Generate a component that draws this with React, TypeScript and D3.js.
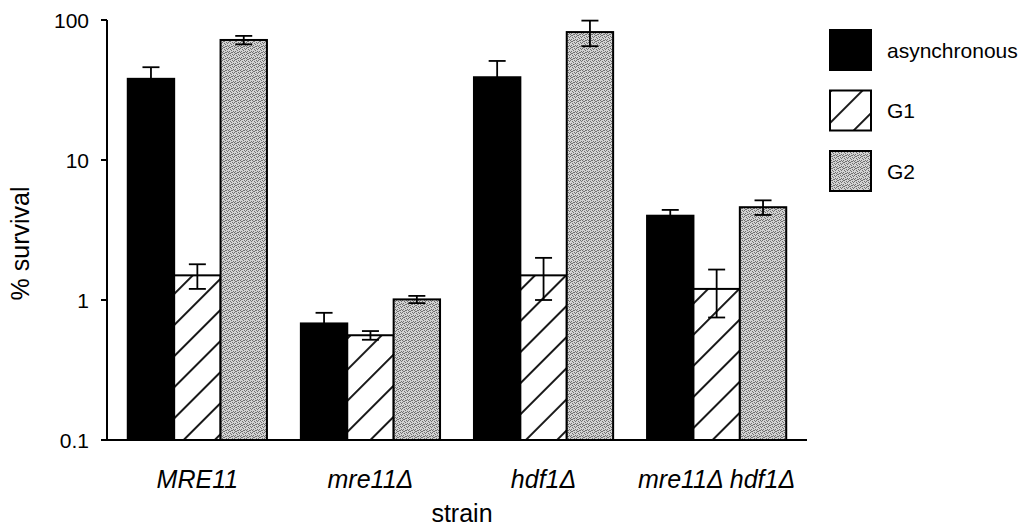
import React from 'react';
import * as d3 from 'd3';

const strains = ['MRE11', 'mre11Δ', 'hdf1Δ', 'mre11Δ hdf1Δ'];
const series = ['asynchronous', 'G1', 'G2'];
const asyncValues = [38, 0.68, 39, 4.0];
const asyncErrors = [8, 0.13, 12, 0.4];
const g1Values = [1.5, 0.56, 1.5, 1.2];
const g1Errors = [0.3, 0.04, 0.5, 0.45];
const g2Values = [72, 1.01, 82, 4.6];
const g2Errors = [5, 0.06, 17, 0.55];
const yTicks = [0.1, 1, 10, 100];

const width = 1024;
const height = 530;
const margin = { top: 20, right: 217, bottom: 90, left: 107 };
const font = '"Liberation Sans", Arial, Helvetica, sans-serif';

// fill per series
const fills = {
  asynchronous: '#000',
  G1: 'url(#hatch)',
  G2: 'url(#stipple)',
};

const App = () => {
  const x0 = d3.scaleBand()
    .domain(strains)
    .range([margin.left, width - margin.right])
    .paddingInner(0.196)
    .paddingOuter(0.12);

  const x1 = d3.scaleBand()
    .domain(series)
    .range([0, x0.bandwidth()])
    .padding(0);

  const y = d3.scaleLog()
    .domain([0.1, 100])
    .range([height - margin.bottom, margin.top]);

  const rows = strains.flatMap((s, i) => [
    { strain: s, key: 'asynchronous', value: asyncValues[i], err: asyncErrors[i] },
    { strain: s, key: 'G1', value: g1Values[i], err: g1Errors[i] },
    { strain: s, key: 'G2', value: g2Values[i], err: g2Errors[i] },
  ]);

  const base = y(0.1);

  // stipple dots inside one tile
  const dots = [[0, 0], [2, 1], [4, 0], [1, 3], [3, 2], [5, 3], [0, 4], [2, 5], [4, 4], [5, 1], [1, 5], [3, 4]];

  return (
    <svg width={width} height={height} style={{ position: 'absolute', left: 0, top: 0, background: '#fff' }}>
      <defs>
        <pattern id="hatch" patternUnits="userSpaceOnUse" width={22} height={22} patternTransform="rotate(45)">
          <rect width={22} height={22} fill="#fff" />
          <line x1={1} y1={0} x2={1} y2={22} stroke="#000" strokeWidth={1.8} />
        </pattern>
        <pattern id="stipple" patternUnits="userSpaceOnUse" width={6} height={6}>
          <rect width={6} height={6} fill="#d2d2d2" />
          {dots.map(([dx, dy], i) => (
            <rect key={i} x={dx} y={dy} width={1} height={1} fill="#707070" shapeRendering="crispEdges" />
          ))}
        </pattern>
      </defs>

      {/* bars */}
      {rows.map((d, i) => {
        const bx = x0(d.strain) + x1(d.key);
        return (
          <rect
            key={'b' + i}
            x={bx}
            y={y(d.value)}
            width={x1.bandwidth()}
            height={base - y(d.value)}
            fill={fills[d.key]}
            stroke="#000"
            strokeWidth={2}
          />
        );
      })}

      {/* error bars */}
      {rows.map((d, i) => {
        const cx = x0(d.strain) + x1(d.key) + x1.bandwidth() / 2;
        const top = y(d.value + d.err);
        const bot = y(Math.max(d.value - d.err, 0.1));
        return (
          <g key={'e' + i} stroke="#000" strokeWidth={1.8}>
            <line x1={cx} x2={cx} y1={top} y2={bot} />
            <line x1={cx - 8.5} x2={cx + 8.5} y1={top} y2={top} />
            <line x1={cx - 8.5} x2={cx + 8.5} y1={bot} y2={bot} />
          </g>
        );
      })}

      {/* axes */}
      <line x1={margin.left} x2={margin.left} y1={y(100)} y2={base} stroke="#000" strokeWidth={2} />
      <line x1={margin.left - 6} x2={width - margin.right} y1={base} y2={base} stroke="#000" strokeWidth={2} />
      {yTicks.map(t => (
        <g key={t}>
          <line x1={margin.left - 6} x2={margin.left} y1={y(t)} y2={y(t)} stroke="#000" strokeWidth={2} />
          <text
            x={margin.left - 18}
            y={y(t)}
            dy="0.36em"
            textAnchor="end"
            fontFamily={font}
            fontSize={21}
          >
            {t}
          </text>
        </g>
      ))}

      {strains.map(s => (
        <text
          key={s}
          x={x0(s) + x0.bandwidth() / 2}
          y={488}
          textAnchor="middle"
          fontFamily={font}
          fontSize={25}
          fontStyle="italic"
        >
          {s}
        </text>
      ))}

      <text x={462} y={522} textAnchor="middle" fontFamily={font} fontSize={25}>strain</text>
      <text
        transform={`translate(29,${(185 + 302) / 2}) rotate(-90)`}
        textAnchor="middle"
        fontFamily={font}
        fontSize={25}
      >
        % survival
      </text>

      {/* legend */}
      {series.map((s, i) => (
        <g key={s} transform={`translate(830,${30 + i * 60.5})`}>
          <rect width={41} height={40} fill={fills[s]} stroke="#000" strokeWidth={2} />
          <text x={57} y={20} dy="0.36em" fontFamily={font} fontSize={21}>{s}</text>
        </g>
      ))}
    </svg>
  );
};

export default App;
